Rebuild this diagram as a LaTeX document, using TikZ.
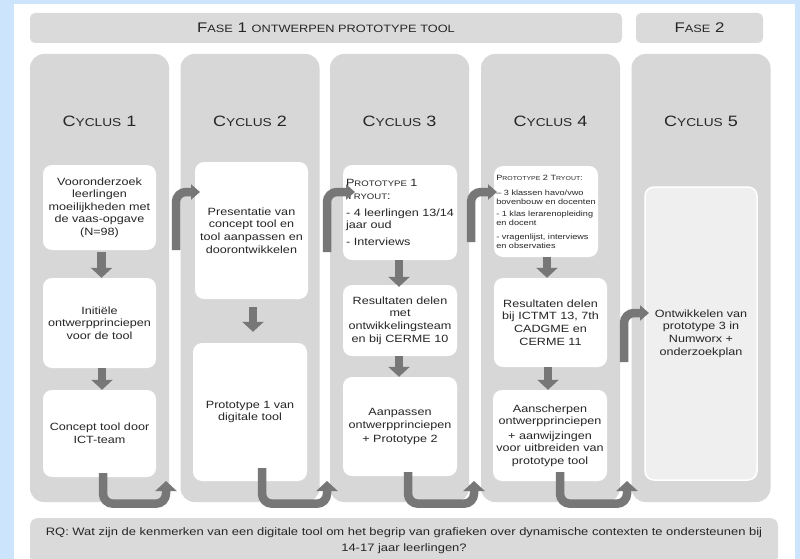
\documentclass[tikz,border=0pt]{standalone}
\usepackage{fontspec}
\setmainfont{Liberation Sans}[FakeStretch=1.2]
\usetikzlibrary{arrows.meta}
\definecolor{bgblue}{HTML}{CCE4FC}
\definecolor{colgray}{HTML}{D7D7D7}
\definecolor{bargray}{HTML}{DADADA}
\definecolor{arrgray}{HTML}{777777}
\definecolor{boxlight}{HTML}{EFEFEF}
\newcommand{\smc}[1]{\scalebox{0.76}{#1}}
\newcommand{\bodyf}{\fontsize{10.5}{12.6}\selectfont}
\newcommand{\titlef}{\fontsize{15}{18}\selectfont}
\newcommand{\fasef}{\fontsize{14}{16}\selectfont}
\newcommand{\smallf}{\fontsize{7.6}{9}\selectfont}
\newcommand{\rqf}{\fontsize{10.8}{16}\selectfont}
\begin{document}
\begin{tikzpicture}[x=1pt,y=-1pt,
  bar/.style={fill=bargray, rounded corners=5pt, inner sep=0pt, font=\fasef, text=black!85},
  colbox/.style={fill=colgray, rounded corners=14pt, minimum width=139pt, minimum height=448pt, inner sep=0pt},
  ctitle/.style={font=\titlef, text=black!85, inner sep=0pt},
  wbox/.style={fill=white, rounded corners=9pt, align=center, inner sep=2pt, font=\bodyf, text=black!85},
  fat/.style={draw=arrgray, line width=8.5pt, rounded corners=10pt},
  vtip/.style={fat, -{Triangle[width=21pt,length=10pt]}},
  htip/.style={fat, -{Triangle[width=15pt,length=9pt]}}
]
\useasboundingbox (0,0) rectangle (800,559);
\fill[bgblue] (0,0) rectangle (800,559);
\fill[white] (14,4) rectangle (795,559);

% headers
\node[bar, minimum width=592pt, minimum height=30pt] (fase1) at (326,28) {F\smc{ASE} 1 \smc{ONTWERPEN PROTOTYPE TOOL}};
\node[bar, minimum width=127pt, minimum height=30pt] (fase2) at (699.5,28) {F\smc{ASE} 2};

% columns
\node[colbox] (col1) at (99.5,278) {};
\node[colbox] (col2) at (250,278) {};
\node[colbox] (col3) at (399.5,278) {};
\node[colbox] (col4) at (550.5,278) {};
\node[colbox] (col5) at (701,278) {};

\node[ctitle] (t1) at (99.5,121) {C\smc{YCLUS} 1};
\node[ctitle] (t2) at (250,121) {C\smc{YCLUS} 2};
\node[ctitle] (t3) at (399.5,121) {C\smc{YCLUS} 3};
\node[ctitle] (t4) at (550.5,121) {C\smc{YCLUS} 4};
\node[ctitle] (t5) at (701,121) {C\smc{YCLUS} 5};

% RQ bar
\node[fill=bargray, rounded corners=8pt, minimum width=748pt, minimum height=46pt, align=center, font=\rqf, text=black!85, inner sep=0pt] (rq) at (404,541)
 {RQ: Wat zijn de kenmerken van een digitale tool om het begrip van grafieken over dynamische contexten te ondersteunen bij\\14-17 jaar leerlingen?};

% boxes column 1
\node[wbox, minimum width=113pt, minimum height=85pt] (c1b1) at (99.5,207.5) {Vooronderzoek\\leerlingen\\moeilijkheden met\\de vaas-opgave\\(N=98)};
\node[wbox, minimum width=113pt, minimum height=90pt] (c1b2) at (99.5,323) {Initiële\\ontwerpprinciepen\\voor de tool};
\node[wbox, minimum width=113pt, minimum height=87pt] (c1b3) at (99.5,433.5) {Concept tool door\\ICT-team};
% column 2
\node[wbox, minimum width=113pt, minimum height=137pt] (c2b1) at (251.5,230.5) {Presentatie van\\concept tool en\\tool aanpassen en\\doorontwikkelen};
\node[wbox, minimum width=114pt, minimum height=138pt] (c2b2) at (250,412) {Prototype 1 van\\digitale tool};
% column 3
\node[wbox, minimum width=114pt, minimum height=95pt, align=left] (c3b1) at (400,212.5)
 {P\smc{ROTOTYPE} 1\\T\smc{RYOUT}:\\[4pt]- 4 leerlingen 13/14\\jaar oud\\[4pt]- Interviews};
\node[wbox, minimum width=114pt, minimum height=71pt] (c3b2) at (400,320.5) {Resultaten delen\\met\\ontwikkelingsteam\\en bij CERME 10};
\node[wbox, minimum width=114pt, minimum height=99pt] (c3b3) at (400,426.5) {Aanpassen\\ontwerpprinciepen\\[2pt]+ Prototype 2};
% column 4
\node[wbox, minimum width=104pt, minimum height=91pt, align=left, font=\smallf] (c4b1) at (546,211.5)
 {P\smc{ROTOTYPE} 2 T\smc{RYOUT}:\\[6pt]– 3 klassen havo/vwo\\bovenbouw en docenten\\[3.5pt]- 1 klas lerarenopleiding\\en docent\\[4.5pt]- vragenlijst, interviews\\en observaties};
\node[wbox, minimum width=113pt, minimum height=89pt] (c4b2) at (550.5,322.5) {Resultaten delen\\bij ICTMT 13, 7th\\CADGME en\\CERME 11};
\node[wbox, minimum width=114pt, minimum height=91pt] (c4b3) at (550,435.5) {Aanscherpen\\ontwerpprinciepen\\[2pt]+ aanwijzingen\\voor uitbreiden van\\prototype tool};
% column 5
\node[wbox, fill=boxlight, draw=white, line width=1.5pt, minimum width=112pt, minimum height=293pt] (c5b) at (701,333.5) {Ontwikkelen van\\prototype 3 in\\Numworx +\\onderzoekplan};

% down arrows
\draw[vtip, shorten <=2pt] ([xshift=2pt]c1b1.south) -- ([xshift=2pt]c1b2.north);
\draw[vtip] ([xshift=2.5pt]c1b2.south) -- ([xshift=2.5pt]c1b3.north);
\draw[vtip, shorten <=8pt, shorten >=11pt] ([xshift=1.5pt]c2b1.south) -- ([xshift=1.5pt]c2b1.south |- c2b2.north);
\draw[vtip, shorten >=-2pt] ([xshift=-1pt]c3b1.south) -- ([xshift=-1pt]c3b2.north);
\draw[vtip] ([xshift=-1pt]c3b2.south) -- ([xshift=-1pt]c3b3.north);
\draw[vtip] ([xshift=1pt]c4b1.south) -- ([xshift=1pt]c4b1.south |- c4b2.north);
\draw[vtip] ([xshift=-2.5pt]c4b2.south) -- ([xshift=-2.5pt]c4b2.south |- c4b3.north);

% U-turn arrows
\coordinate (u1e) at (166,481);
\coordinate (u2e) at (327,481);
\coordinate (u3e) at (474,481);
\coordinate (u4e) at (627,481);
\draw[vtip] ([xshift=3.5pt,yshift=4pt]c1b3.south) -- ++(0,30.5) -| (u1e);
\draw[vtip] ([xshift=12pt,yshift=13pt]c2b2.south) -- ++(0,35.5) -| (u2e);
\draw[vtip] ([xshift=8pt,yshift=4pt]c3b3.south) -- ++(0,31.5) -| (u3e);
\draw[vtip] ([xshift=10pt,yshift=9pt]c4b3.south) -- ++(0,31.5) -| (u4e);

% bent arrows
\coordinate (b1s) at (176,250);
\coordinate (b1t) at (200,192);
\coordinate (b2s) at (327,252);
\coordinate (b2t) at (355,192);
\coordinate (b3s) at (471,242);
\coordinate (b3t) at (497,192);
\coordinate (b4s) at (624,362);
\coordinate (b4t) at (649,313);
\draw[htip] (b1s) |- (b1t);
\draw[htip] (b2s) |- (b2t);
\draw[htip] (b3s) |- (b3t);
\draw[htip] (b4s) |- (b4t);
\end{tikzpicture}
\end{document}
